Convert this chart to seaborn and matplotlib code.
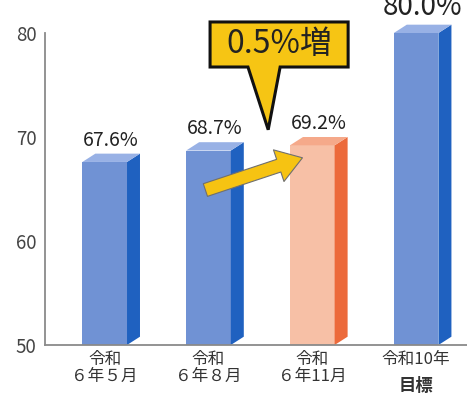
import numpy as np
import pandas as pd
import matplotlib
matplotlib.use("Agg")
import matplotlib.pyplot as plt
from matplotlib.patches import Polygon
import seaborn as sns

# data
periods = ["令和\n６年５月", "令和\n６年８月", "令和\n６年11月", "令和10年"]
rates = [67.6, 68.7, 69.2, 80.0]
labels = ["67.6%", "68.7%", "69.2%", "80.0%"]
callout = "0.5%増"
goal_word = "目標"

front_cols = ["#7092d4", "#7092d4", "#f7c0a6", "#7092d4"]
side_cols = ["#1f61c0", "#1f61c0", "#ec6a3b", "#1f61c0"]
top_cols = ["#98b1e5", "#98b1e5", "#f5a98a", "#98b1e5"]

sns.set_theme(style="white")
plt.rcParams['font.family'] = ['Noto Sans CJK JP', 'DejaVu Sans']

df = pd.DataFrame({"period": periods, "rate": rates})

fig = plt.figure(figsize=(4.67, 4.04), dpi=100)
ax = fig.add_axes([45 / 467, 59 / 404, 422 / 467, 312 / 404])

sns.barplot(data=df, x="period", y="rate", hue="period", palette=front_cols,
            legend=False, width=0.43, ax=ax, saturation=1, linewidth=0)

ymin, ymax = 50, 80
ax.set_ylim(ymin, ymax)
ax.set_xlim(-0.575, 3.49)

# fake 3d: side and top faces from the bar patches
dx, dy = 0.125, 0.8
for i, p in enumerate(ax.patches):
    x0 = p.get_x()
    x1 = x0 + p.get_width()
    top = p.get_y() + p.get_height()
    bot = max(p.get_y(), ymin)
    ax.add_patch(Polygon([(x1, bot), (x1 + dx, bot + dy), (x1 + dx, top + dy), (x1, top)],
                         closed=True, fc=side_cols[i], ec="none", clip_on=False, zorder=2))
    ax.add_patch(Polygon([(x0, top), (x0 + dx, top + dy), (x1 + dx, top + dy), (x1, top)],
                         closed=True, fc=top_cols[i], ec="none", clip_on=False, zorder=2))
    fs = 20 if i == 3 else 14
    ax.annotate(labels[i], (x0 + (x1 - x0 + dx) / 2, top + dy), xytext=(0, 2),
                textcoords="offset points", ha="center", va="bottom",
                fontsize=fs, color="#222222", annotation_clip=False)

# arrow from bar 2 to bar 3
ax.annotate("", xy=(2 - 0.095, rates[2] - 1.2), xytext=(1 - 0.03, rates[1] - 3.8),
            arrowprops=dict(arrowstyle="simple,head_length=1.5,head_width=2.0,tail_width=0.8",
                            fc="#f6c312", ec="#6f6f6f", lw=0.8, mutation_scale=12,
                            shrinkA=0, shrinkB=0),
            zorder=5)

# callout box with pointer
bx0, bx1, by0, by1 = 1.015, 2.345, 76.73, 81.06
tip = (1.575, rates[1] + 2.0)
ax.add_patch(Polygon([(bx0, by1), (bx1, by1), (bx1, by0), (1.69, by0), tip, (1.38, by0), (bx0, by0)],
                     closed=True, fc="#f6c514", ec="#111111", lw=2.2, clip_on=False, zorder=6))
ax.text((bx0 + bx1) / 2, (by0 + by1) / 2, callout, ha="center", va="center",
        fontsize=23, color="#222222", zorder=7, clip_on=False)

ax.set_yticks([50, 60, 70, 80])
ax.set_xlabel("")
ax.set_ylabel("")
ax.tick_params(axis="both", length=0)
ax.tick_params(axis="y", pad=6, labelsize=13.5, labelcolor="#444444")
ax.tick_params(axis="x", pad=4, labelsize=12, labelcolor="#333333")
for lab in ax.get_xticklabels():
    lab.set_linespacing(1.05)

ax.annotate(goal_word, (3, 0), xycoords=("data", "axes fraction"), xytext=(0, -23),
            textcoords="offset points", ha="center", va="top", fontsize=12.5,
            fontweight="bold", color="#333333", annotation_clip=False)

sns.despine(ax=ax, top=True, right=True)
for s in ["left", "bottom"]:
    ax.spines[s].set_color("#8a8a8a")
    ax.spines[s].set_linewidth(1.3)

fig.savefig("out.png", dpi=100)
